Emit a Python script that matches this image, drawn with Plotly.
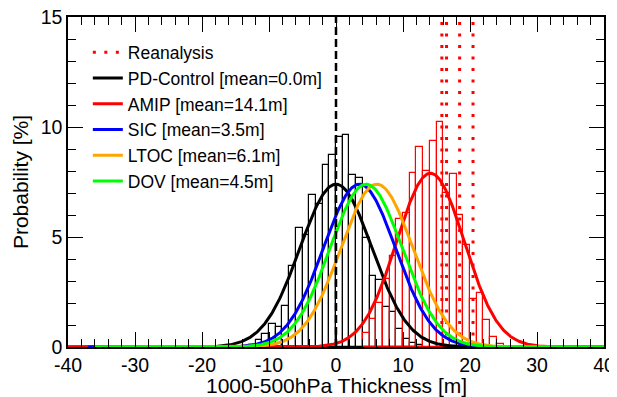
import numpy as np
import plotly.graph_objects as go

# ---------------- data ----------------
# histogram bins are 1 m wide; values are the left bin edges
pd_bin_left = list(range(-14, 13))
pd_prob = [0.05, 0.1, 0.32, 0.58, 1.03, 0.9, 1.88, 3.68, 5.39, 5.09, 6.9, 6.5,
           8.27, 8.73, 9.56, 9.62, 7.82, 7.7, 4.94, 3.23, 3.05, 1.83, 1.6, 0.8,
           0.35, 0.18, 0.1]

amip_bin_left = list(range(4, 25))
amip_prob = [0.62, 1.26, 2.0, 3.1, 4.14, 5.8, 6.1, 7.9, 9.1, 8.0, 9.36, 10.24,
             7.0, 7.86, 6.0, 4.64, 2.2, 2.45, 1.23, 0.47, 0.15]

reanalysis_x = [15.8, 16.5, 18.45, 20.45]

series_names = ["PD-Control [mean=0.0m]", "AMIP [mean=14.1m]", "SIC [mean=3.5m]",
                "LTOC [mean=6.1m]", "DOV [mean=4.5m]"]
series_mean = [0.0, 14.1, 3.5, 6.1, 4.5]
series_peak = [7.4, 7.9, 7.4, 7.4, 7.4]
series_color = ["#000000", "#ff0000", "#0000ff", "#ffa500", "#00ff00"]
series_xstart = [-40, -40, -37, -36, -36]

x_ticks = [-40, -30, -20, -10, 0, 10, 20, 30, 40]
x_tick_text = ["-40", "-30", "-20", "-10", "0", "10", "20", "30", "40"]
y_ticks = [0, 5, 10, 15]
y_tick_text = ["0", "5", "10", "15"]
x_title = "1000-500hPa Thickness [m]"
y_title = "Probability [%]"

# ---------------- figure ----------------
fig = go.Figure()
FONT = "Liberation Sans, Arial, Helvetica, sans-serif"

# histograms
fig.add_trace(go.Bar(x=[b + 0.5 for b in pd_bin_left], y=pd_prob, width=1,
                     marker=dict(color="rgba(0,0,0,0)", line=dict(color="#000000", width=1.2)),
                     showlegend=False, hoverinfo="skip"))
fig.add_trace(go.Bar(x=[b + 0.5 for b in amip_bin_left], y=amip_prob, width=1,
                     marker=dict(color="rgba(0,0,0,0)", line=dict(color="#ff0000", width=1.2)),
                     showlegend=False, hoverinfo="skip"))

# reanalysis dotted vertical lines
rx, ry = [], []
for v in reanalysis_x:
    rx += [v, v, None]
    ry += [0, 15, None]
fig.add_trace(go.Scatter(x=rx, y=ry, mode="lines", name="Reanalysis",
                         line=dict(color="#ff0000", width=3, dash="3px,8.5px")))

# Gaussian fits
for name, m, pk, c, xs in zip(series_names, series_mean, series_peak, series_color, series_xstart):
    sig = 100.0 / (pk * np.sqrt(2 * np.pi))
    xx = np.linspace(xs, 40, 801)
    yy = pk * np.exp(-(xx - m) ** 2 / (2 * sig ** 2))
    fig.add_trace(go.Scatter(x=xx, y=yy, mode="lines", name=name,
                             line=dict(color=c, width=3)))

# dashed zero line
fig.add_trace(go.Scatter(x=[0, 0], y=[0, 15], mode="lines", showlegend=False,
                         line=dict(color="#000000", width=2.5, dash="8px,4px")))

# page body has an 8px margin, so the figure is 8px smaller than the window
fig.update_layout(
    width=609, height=389,
    margin=dict(l=60, r=13, t=9, b=50),
    paper_bgcolor="white", plot_bgcolor="white",
    barmode="overlay", bargap=0,
    font=dict(family=FONT, size=20, color="black"),
    legend=dict(x=0.037, y=0.947, xanchor="left", yanchor="top",
                bgcolor="rgba(0,0,0,0)", font=dict(size=17.5), tracegroupgap=0,
                itemwidth=30),
    showlegend=True,
    annotations=[dict(text=x_title, x=0.5, y=-0.118, xref="paper", yref="paper",
                      xanchor="center", yanchor="middle", showarrow=False,
                      font=dict(size=21))],
)
fig.update_xaxes(range=[-40, 40], tickvals=x_ticks, ticktext=x_tick_text,
                 ticks="inside", ticklen=15, automargin=False, ticklabeloverflow="allow",
                 tickcolor="black", tickwidth=1, mirror="allticks", showline=True,
                 linecolor="black", linewidth=1.5, showgrid=False, zeroline=False,
                 minor=dict(dtick=2, ticks="inside", ticklen=8, tickcolor="black", showgrid=False),
                 tickfont=dict(size=19.5))
fig.update_yaxes(range=[0, 15], tickvals=y_ticks, ticktext=y_tick_text,
                 ticks="inside", ticklen=15, automargin=False, ticklabeloverflow="allow",
                 tickcolor="black", tickwidth=1, mirror="allticks", showline=True,
                 linecolor="black", linewidth=1.5, showgrid=False, zeroline=False,
                 minor=dict(dtick=1, ticks="inside", ticklen=8, tickcolor="black", showgrid=False),
                 title=dict(text=y_title, standoff=6, font=dict(size=21)),
                 tickfont=dict(size=19.5))

fig.write_html("out.html")
